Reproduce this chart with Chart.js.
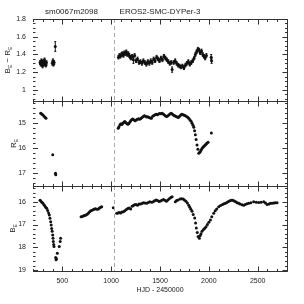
<!DOCTYPE html>
<html>
<head>
<meta charset="utf-8">
<script src="https://cdn.jsdelivr.net/npm/chart.js@4.4.1/dist/chart.umd.min.js"></script>
<style>
  html, body { margin: 0; padding: 0; background: #fff; }
  #wrap { position: relative; width: 304px; height: 304px; }
  #wrap canvas { position: absolute; left: 0; top: 0; }
</style>
</head>
<body>
<div id="wrap">
  <canvas id="colorPanel" width="304" height="304"></canvas>
  <canvas id="redPanel" width="304" height="304"></canvas>
  <canvas id="bluePanel" width="304" height="304"></canvas>
</div>
<script>
// header texts
const fieldId = 'sm0067m2098';
const starName = 'EROS2-SMC-DYPer-3';
const xTitle = 'HJD - 2450000';

// x axis (days)
const xTicks = [500, 1000, 1500, 2000, 2500];
const dashDay = 1030;

// B_E - R_E colour
const colorTicks = [1, 1.2, 1.4, 1.6, 1.8];
const colorDays = [272, 280, 286, 292, 298, 304, 310, 318, 325, 332, 338,
  398, 404, 410, 416, 428,
  1075, 1085, 1095, 1105, 1115, 1125, 1135, 1145, 1155, 1165, 1175, 1185, 1195, 1205, 1215, 1228,
  1240, 1255, 1270, 1285, 1300, 1315, 1330, 1345, 1360, 1375, 1390, 1405, 1420, 1435, 1450, 1465,
  1480, 1495, 1510, 1525, 1540, 1555, 1570, 1585, 1600, 1615, 1624, 1640, 1655, 1670, 1685, 1700,
  1715, 1730, 1745, 1760, 1775, 1790, 1805, 1820, 1835, 1850, 1862, 1875, 1888, 1900, 1912, 1925,
  1938, 1950, 1962, 1975, 2024, 2028];
const colorValues = [1.31, 1.29, 1.33, 1.30, 1.27, 1.32, 1.29, 1.34, 1.30, 1.28, 1.31,
  1.30, 1.33, 1.29, 1.31, 1.49,
  1.37, 1.39, 1.38, 1.40, 1.41, 1.39, 1.42, 1.41, 1.43, 1.40, 1.41, 1.39, 1.37, 1.36, 1.38, 1.34,
  1.39, 1.33, 1.35, 1.31, 1.32, 1.30, 1.33, 1.31, 1.29, 1.32, 1.30, 1.33, 1.31, 1.35, 1.33, 1.37,
  1.35, 1.33, 1.36, 1.34, 1.38, 1.36, 1.34, 1.32, 1.30, 1.31, 1.23, 1.31, 1.33, 1.30, 1.28, 1.27,
  1.26, 1.27, 1.25, 1.28, 1.30, 1.32, 1.29, 1.31, 1.33, 1.36, 1.40, 1.43, 1.46, 1.45, 1.42, 1.44,
  1.40, 1.38, 1.36, 1.39, 1.37, 1.33];
const colorErrors = [0.02, 0.02, 0.02, 0.02, 0.02, 0.02, 0.02, 0.02, 0.02, 0.02, 0.02,
  0.02, 0.02, 0.02, 0.02, 0.055,
  0.02, 0.02, 0.02, 0.02, 0.02, 0.02, 0.02, 0.02, 0.02, 0.02, 0.02, 0.02, 0.02, 0.02, 0.02, 0.04,
  0.02, 0.02, 0.02, 0.02, 0.02, 0.02, 0.02, 0.02, 0.02, 0.02, 0.02, 0.02, 0.02, 0.02, 0.02, 0.02,
  0.02, 0.02, 0.02, 0.02, 0.02, 0.02, 0.02, 0.02, 0.02, 0.02, 0.03, 0.02, 0.02, 0.02, 0.02, 0.02,
  0.02, 0.02, 0.02, 0.02, 0.02, 0.02, 0.02, 0.02, 0.02, 0.02, 0.02, 0.02, 0.02, 0.02, 0.02, 0.02,
  0.02, 0.02, 0.02, 0.02, 0.03, 0.03];

// R_E magnitude
const redTicks = [15, 16, 17];
const redDays = [279, 289, 299, 311, 323, 333, 402, 430, 433,
  1072, 1080, 1090, 1100, 1110, 1120, 1130, 1140, 1150, 1160, 1170, 1180, 1190, 1200, 1210, 1220,
  1232, 1244, 1256, 1268, 1280, 1292, 1304, 1316, 1328, 1340, 1352, 1364, 1376, 1388, 1400, 1412,
  1425, 1437, 1449, 1461, 1473, 1485, 1497, 1509, 1521, 1533, 1545, 1557, 1569, 1581, 1593, 1605,
  1616, 1628, 1640, 1652, 1664, 1676, 1688, 1700, 1712, 1724, 1736, 1748, 1760, 1772, 1784, 1794,
  1806, 1818, 1828, 1838, 1846, 1854, 1862, 1870, 1879, 1888, 1897, 1905, 1913, 1922, 1930, 1940,
  1950, 1960, 1970, 1980, 1992, 2026];
const redValues = [14.60, 14.63, 14.66, 14.71, 14.76, 14.80, 16.28, 17.02, 17.08,
  15.20, 15.14, 15.06, 15.02, 15.05, 15.00, 14.96, 14.93, 14.97, 15.01, 15.04, 15.02, 14.96, 14.90, 14.86, 14.83,
  14.86, 14.90, 14.87, 14.84, 14.82, 14.84, 14.81, 14.77, 14.73, 14.70, 14.72, 14.75, 14.74, 14.77, 14.79, 14.80,
  14.72, 14.69, 14.66, 14.64, 14.66, 14.63, 14.61, 14.62, 14.60, 14.63, 14.67, 14.71, 14.73, 14.70, 14.66, 14.62,
  14.60, 14.64, 14.68, 14.70, 14.73, 14.75, 14.77, 14.72, 14.67, 14.64, 14.66, 14.68, 14.70, 14.73, 14.76, 14.80,
  14.86, 14.92, 15.00, 15.08, 15.16, 15.30, 15.47, 15.66, 15.88, 16.05, 16.21, 16.18, 16.14, 16.08, 16.02, 15.97,
  15.93, 15.89, 15.85, 15.81, 15.77, 15.40];

// B_E magnitude
const blueTicks = [16, 17, 18, 19];
const blueDays = [272, 280, 290, 300, 310, 320, 330, 340, 350, 360, 367, 374, 381, 386, 391, 396,
  402, 405, 408, 412, 415, 432, 436, 440, 449, 469, 478, 483,
  692, 705, 718, 730, 742, 755, 768, 780, 792, 805, 818, 830, 842, 855, 869, 880, 892, 903,
  1022, 1057, 1070, 1083, 1096, 1110, 1125, 1140, 1155, 1170, 1185, 1200, 1215, 1227, 1240, 1255,
  1270, 1285, 1300, 1315, 1330, 1345, 1364, 1380, 1395, 1415, 1430, 1445, 1460, 1475, 1490, 1505,
  1520, 1535, 1550, 1565, 1580, 1595, 1610, 1624, 1657, 1670, 1685, 1706, 1720, 1737, 1750, 1765,
  1780, 1794, 1805, 1816, 1828, 1840, 1855, 1864, 1872, 1881, 1890, 1903, 1912, 1920, 1930, 1945,
  1958, 1971, 1985, 2000, 2016, 2030, 2050, 2065, 2080, 2101, 2120, 2140, 2155, 2169, 2185, 2200,
  2215, 2230, 2245, 2260, 2275, 2290, 2306, 2320, 2340, 2357, 2372, 2390, 2408, 2430, 2459, 2485,
  2510, 2535, 2562, 2580, 2596, 2615, 2630, 2647, 2665, 2680, 2698];
const blueValues = [15.93, 15.97, 16.02, 16.06, 16.12, 16.18, 16.24, 16.29, 16.38, 16.50, 16.58, 16.72, 16.88, 17.02, 17.17, 17.30,
  17.46, 17.60, 17.75, 17.88, 17.97, 18.45, 18.55, 18.50, 18.26, 17.97, 17.75, 17.60,
  16.66, 16.65, 16.62, 16.60, 16.58, 16.55, 16.50, 16.44, 16.40, 16.37, 16.34, 16.32, 16.31, 16.33, 16.32, 16.28, 16.24, 16.22,
  16.26, 16.51, 16.50, 16.47, 16.49, 16.45, 16.44, 16.40, 16.34, 16.30, 16.27, 16.32, 16.20, 16.17, 16.13, 16.12,
  16.15, 16.10, 16.10, 16.08, 16.04, 16.06, 16.07, 16.03, 16.00, 16.02, 16.00, 15.96, 15.92, 15.95, 15.99, 15.97,
  15.93, 15.90, 15.94, 15.98, 15.92, 15.87, 15.82, 15.78, 16.00, 15.95, 15.92, 15.88, 15.87, 15.88, 15.92, 15.98,
  16.06, 16.15, 16.24, 16.33, 16.42, 16.56, 16.71, 16.93, 17.15, 17.35, 17.53, 17.60, 17.48, 17.40, 17.30, 17.22,
  17.16, 17.10, 17.00, 16.90, 16.80, 16.66, 16.51, 16.40, 16.32, 16.22, 16.17, 16.12, 16.09, 16.07, 16.03, 15.99,
  15.96, 15.94, 15.93, 15.97, 16.00, 16.04, 16.07, 16.10, 16.13, 16.15, 16.12, 16.09, 16.07, 16.04, 16.00, 16.02,
  16.03, 16.02, 16.00, 16.06, 16.12, 16.10, 16.07, 16.07, 16.06, 16.05, 16.05];

const FONT = 'Liberation Sans, Arial, sans-serif';
const INK = '#222';

function drawLabel(ctx, parts, cx, cy) {
  ctx.save();
  ctx.translate(cx, cy);
  ctx.rotate(-Math.PI / 2);
  ctx.fillStyle = INK;
  ctx.textBaseline = 'middle';
  ctx.textAlign = 'left';
  let w = 0;
  parts.forEach(p => {
    ctx.font = (p.sub ? 5 : 8) + 'px ' + FONT;
    w += ctx.measureText(p.t).width;
  });
  let pos = -w / 2;
  parts.forEach(p => {
    ctx.font = (p.sub ? 5 : 8) + 'px ' + FONT;
    ctx.fillText(p.t, pos, p.sub ? 2.5 : 0);
    pos += ctx.measureText(p.t).width;
  });
  ctx.restore();
}

// frame, inward ticks, dashed line, error bars and the rotated label
const panelDecor = {
  id: 'panelDecor',
  afterDatasetsDraw(chart, args, o) {
    const { ctx, chartArea: a, scales: { x, y } } = chart;
    ctx.save();
    ctx.lineWidth = 1;

    const dx = Math.round(x.getPixelForValue(dashDay)) + 0.5;
    ctx.strokeStyle = '#aaa';
    ctx.setLineDash([4, 3]);
    ctx.beginPath();
    ctx.moveTo(dx, a.top);
    ctx.lineTo(dx, a.bottom);
    ctx.stroke();
    ctx.setLineDash([]);

    if (o.errors) {
      ctx.strokeStyle = '#111';
      const ds = chart.data.datasets[0].data;
      ds.forEach((p, i) => {
        const px = x.getPixelForValue(p.x);
        const y1 = y.getPixelForValue(p.y - o.errors[i]);
        const y2 = y.getPixelForValue(p.y + o.errors[i]);
        ctx.beginPath();
        ctx.moveTo(px, y1); ctx.lineTo(px, y2);
        ctx.moveTo(px - 1, y1); ctx.lineTo(px + 1, y1);
        ctx.moveTo(px - 1, y2); ctx.lineTo(px + 1, y2);
        ctx.stroke();
      });
    }

    ctx.strokeStyle = '#333';
    const L = a.left, R = Math.round(a.right) + 0.5, T = Math.round(a.top) + 0.5, B = Math.round(a.bottom) + 0.5;
    ctx.beginPath();
    ctx.moveTo(L, T); ctx.lineTo(R, T); ctx.lineTo(R, B); ctx.lineTo(L, B);
    ctx.stroke();

    ctx.beginPath();
    for (let v = 200; v <= 2800; v += 100) {
      const px = Math.round(x.getPixelForValue(v)) + 0.5;
      const len = xTicks.includes(v) ? 5 : 2.5;
      ctx.moveTo(px, T); ctx.lineTo(px, T + len);
      ctx.moveTo(px, B); ctx.lineTo(px, B - len);
    }
    const n = Math.round((o.minorMax - o.minorMin) / o.minorStep);
    for (let k = 0; k <= n; k++) {
      const v = o.minorMin + k * o.minorStep;
      const py = Math.round(y.getPixelForValue(v)) + 0.5;
      const major = o.ticks.some(t => Math.abs(t - v) < 1e-6);
      const len = major ? 5 : 2.5;
      ctx.moveTo(L, py); ctx.lineTo(L + len, py);
      ctx.moveTo(R, py); ctx.lineTo(R - len, py);
    }
    ctx.stroke();

    drawLabel(ctx, o.label, o.labelX, (a.top + a.bottom) / 2);

    if (o.header) {
      ctx.fillStyle = INK;
      ctx.font = '8px ' + FONT;
      ctx.textBaseline = 'middle';
      ctx.textAlign = 'left';
      ctx.fillText(fieldId, 45, 12);
      ctx.textAlign = 'center';
      ctx.fillText(starName, (a.left + a.right) / 2, 12);
    }
    ctx.restore();
  }
};

function makePanel(id, days, values, cfg) {
  return new Chart(document.getElementById(id), {
    type: 'scatter',
    data: {
      datasets: [{
        data: days.map((d, i) => ({ x: d, y: values[i] })),
        backgroundColor: '#111',
        borderColor: '#111',
        pointRadius: 1.5,
        pointBorderWidth: 0
      }]
    },
    options: {
      responsive: false,
      animation: false,
      events: [],
      layout: { padding: { left: 0, right: 17, top: cfg.top, bottom: cfg.showX ? 0 : 304 - cfg.bottom } },
      plugins: {
        legend: { display: false },
        tooltip: { enabled: false },
        panelDecor: cfg.decor
      },
      scales: {
        x: {
          type: 'linear',
          min: 200,
          max: 2800,
          display: cfg.showX,
          afterFit: s => { if (cfg.showX) s.height = 304 - cfg.bottom; },
          afterBuildTicks: s => { s.ticks = xTicks.map(v => ({ value: v })); },
          grid: { display: false, drawTicks: false },
          border: { display: false },
          ticks: { color: INK, font: { family: FONT, size: 7 }, padding: 6, maxRotation: 0, callback: v => String(v) },
          title: { display: true, text: xTitle, color: INK, font: { family: FONT, size: 7 }, padding: { top: 0, bottom: 10 } }
        },
        y: {
          type: 'linear',
          min: cfg.min,
          max: cfg.max,
          reverse: cfg.reverse,
          afterFit: s => { s.width = 33; },
          afterBuildTicks: s => { s.ticks = cfg.ticks.map(v => ({ value: v })); },
          grid: { display: false, drawTicks: false },
          border: { display: false },
          ticks: { color: INK, font: { family: FONT, size: 7 }, padding: 7, callback: v => String(v) }
        }
      }
    },
    plugins: [panelDecor]
  });
}

makePanel('colorPanel', colorDays, colorValues, {
  top: 19, bottom: 101, min: 0.876, max: 1.8, reverse: false, ticks: colorTicks, showX: false,
  decor: { errors: colorErrors, ticks: colorTicks, minorMin: 0.9, minorMax: 1.8, minorStep: 0.05,
    label: [{ t: 'B' }, { t: 'E', sub: true }, { t: ' \u2212 ' }, { t: 'R' }, { t: 'E', sub: true }], labelX: 8, header: true }
});
makePanel('redPanel', redDays, redValues, {
  top: 101, bottom: 186, min: 14.1, max: 17.54, reverse: true, ticks: redTicks, showX: false,
  decor: { ticks: redTicks, minorMin: 14.2, minorMax: 17.4, minorStep: 0.2,
    label: [{ t: 'R' }, { t: 'E', sub: true }], labelX: 14 }
});
makePanel('bluePanel', blueDays, blueValues, {
  top: 186, bottom: 271, min: 15.31, max: 19.04, reverse: true, ticks: blueTicks, showX: true,
  decor: { ticks: blueTicks, minorMin: 15.4, minorMax: 19.0, minorStep: 0.2,
    label: [{ t: 'B' }, { t: 'E', sub: true }], labelX: 13 }
});
</script>
</body>
</html>
